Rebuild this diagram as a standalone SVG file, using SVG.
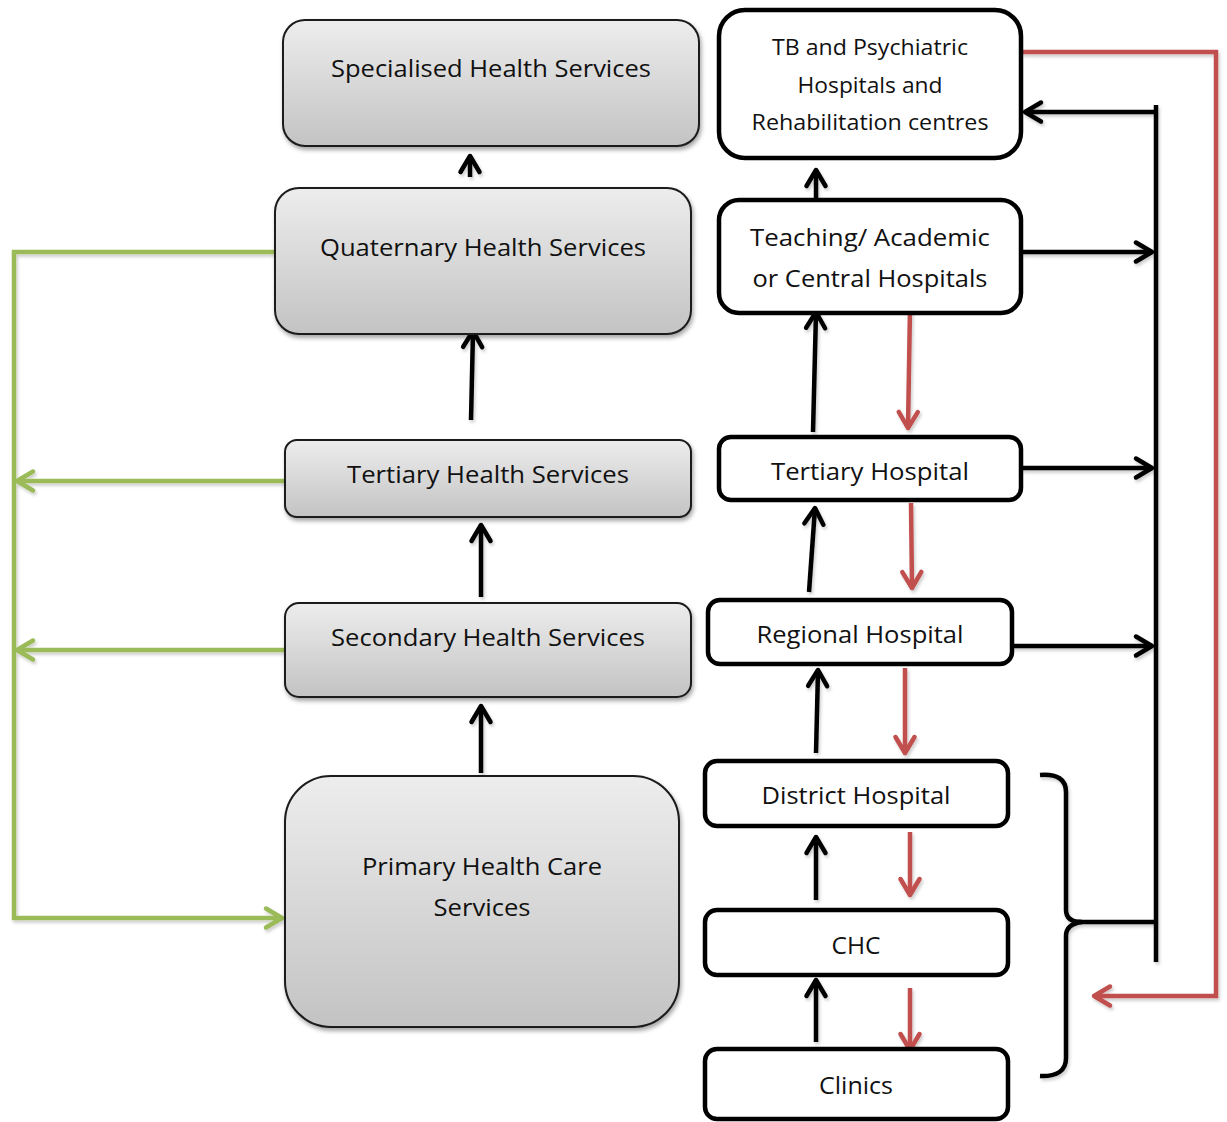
<svg xmlns="http://www.w3.org/2000/svg" width="1227" height="1122" viewBox="0 0 1227 1122">
  <style>
    .svc { stroke: #1a1a1a; stroke-width: 2; fill: url(#greyFade); filter: url(#soft); }
    .hosp { stroke: #000; stroke-width: 4.5; fill: #fff; }
    .lbl { font-family: "Open Sans", "Noto Sans", "Liberation Sans", sans-serif; fill: #111; text-anchor: middle; }
    .big { font-size: 24px; }
    .mid { font-size: 23px; }
    .small { font-size: 21px; }
    .up { stroke: #000; stroke-width: 4.5; fill: none; marker-end: url(#headBlack); }
    .down { stroke: #c0504d; stroke-width: 4.5; fill: none; marker-end: url(#headRed); }
    .green { stroke: #9bbb59; stroke-width: 4.5; fill: none; marker-end: url(#headGreen); }
    .plain { stroke: #000; stroke-width: 4.5; fill: none; }
    .plainRed { stroke: #c0504d; stroke-width: 4.5; fill: none; }
    .plainGreen { stroke: #9bbb59; stroke-width: 4.5; fill: none; }
  </style>
  <defs>
    <linearGradient id="greyFade" x1="0" y1="0" x2="0" y2="1">
      <stop offset="0" stop-color="#ededed"/>
      <stop offset="1" stop-color="#c3c3c3"/>
    </linearGradient>
    <filter id="soft" x="-10%" y="-10%" width="120%" height="130%">
      <feDropShadow dx="1.5" dy="3" stdDeviation="2" flood-color="#000" flood-opacity="0.35"/>
    </filter>
    <filter id="lineShadow" x="-10%" y="-10%" width="120%" height="120%">
      <feDropShadow dx="1.5" dy="2.5" stdDeviation="1.5" flood-color="#000" flood-opacity="0.2"/>
    </filter>
    <marker id="headBlack" viewBox="-20 -13 24 26" refX="0" refY="0" markerWidth="24" markerHeight="26" markerUnits="userSpaceOnUse" orient="auto">
      <path d="M-16,-9.5 L0,0 L-16,9.5" fill="none" stroke="#000" stroke-width="4.5" stroke-linecap="round" stroke-linejoin="round"/>
    </marker>
    <marker id="headRed" viewBox="-20 -13 24 26" refX="0" refY="0" markerWidth="24" markerHeight="26" markerUnits="userSpaceOnUse" orient="auto">
      <path d="M-16,-9.5 L0,0 L-16,9.5" fill="none" stroke="#c0504d" stroke-width="4.5" stroke-linecap="round" stroke-linejoin="round"/>
    </marker>
    <marker id="headGreen" viewBox="-20 -13 24 26" refX="0" refY="0" markerWidth="24" markerHeight="26" markerUnits="userSpaceOnUse" orient="auto">
      <path d="M-16,-9.5 L0,0 L-16,9.5" fill="none" stroke="#9bbb59" stroke-width="4.5" stroke-linecap="round" stroke-linejoin="round"/>
    </marker>
  </defs>

  <rect width="1227" height="1122" fill="#fff"/>

  <!-- connectors -->
  <g id="connectors" filter="url(#lineShadow)">
    <!-- green feedback loop on the service levels -->
    <path class="green" d="M275,252 L14,252 L14,918 L282,918"/>
    <path class="green" d="M285,481 L17,481"/>
    <path class="green" d="M285,650 L17,650"/>

    <!-- service level escalation -->
    <path class="up" d="M470,177 L470,156"/>
    <path class="up" d="M471,420 L473,331"/>
    <path class="up" d="M481,597 L481,525"/>
    <path class="up" d="M481,773 L481,706"/>

    <!-- hospital referral upward -->
    <path class="up" d="M816,200 L816,170"/>
    <path class="up" d="M813,432 L816,312"/>
    <path class="up" d="M809,592 L815,508"/>
    <path class="up" d="M816,753 L818,670"/>
    <path class="up" d="M816,900 L816,837"/>
    <path class="up" d="M816,1042 L816,980"/>

    <!-- back referral downward -->
    <path class="down" d="M910,308 L908,428"/>
    <path class="down" d="M911,503 L912,588"/>
    <path class="down" d="M905,668 L905,753"/>
    <path class="down" d="M910,832 L910,895"/>
    <path class="down" d="M910,988 L910,1050"/>
    <path class="down" d="M1021,52 L1216,52 L1216,996 L1094,996"/>

    <!-- right-hand bus to specialised hospitals -->
    <path class="plain" d="M1156,105 L1156,962"/>
    <path class="up" d="M1156,112 L1025,112"/>
    <path class="up" d="M1021,252 L1152,252"/>
    <path class="up" d="M1021,468 L1152,468"/>
    <path class="up" d="M1012,646 L1152,646"/>
    <path class="plain" d="M1078,922 L1156,922"/>

    <!-- brace grouping district level facilities -->
    <path class="plain" d="M1040,775 Q1066,773 1066,792 L1066,910 Q1066,922 1082,922 Q1066,924 1066,936 L1066,1058 Q1066,1077 1040,1076"/>
  </g>

  <!-- service levels -->
  <g id="specialised">
    <rect class="svc" x="283" y="20" width="416" height="126" rx="22"/>
    <text class="lbl big" x="491" y="77" textLength="320" lengthAdjust="spacingAndGlyphs">Specialised Health Services</text>
  </g>
  <g id="quaternary">
    <rect class="svc" x="275" y="188" width="416" height="146" rx="24"/>
    <text class="lbl big" x="483" y="256" textLength="326" lengthAdjust="spacingAndGlyphs">Quaternary Health Services</text>
  </g>
  <g id="tertiary-services">
    <rect class="svc" x="285" y="440" width="406" height="77" rx="12"/>
    <text class="lbl big" x="488" y="483" textLength="282" lengthAdjust="spacingAndGlyphs">Tertiary Health Services</text>
  </g>
  <g id="secondary-services">
    <rect class="svc" x="285" y="603" width="406" height="94" rx="14"/>
    <text class="lbl big" x="488" y="646" textLength="314" lengthAdjust="spacingAndGlyphs">Secondary Health Services</text>
  </g>
  <g id="primary-services">
    <rect class="svc" x="285" y="776" width="394" height="251" rx="46"/>
    <text class="lbl big" x="482" y="875" textLength="240" lengthAdjust="spacingAndGlyphs">Primary Health Care</text>
    <text class="lbl big" x="482" y="916" textLength="97" lengthAdjust="spacingAndGlyphs">Services</text>
  </g>

  <!-- hospitals -->
  <g id="tb-psychiatric">
    <rect class="hosp" x="719" y="10" width="302" height="148" rx="26"/>
    <text class="lbl small" x="870" y="55" textLength="196" lengthAdjust="spacingAndGlyphs">TB and Psychiatric</text>
    <text class="lbl small" x="870" y="93" textLength="145" lengthAdjust="spacingAndGlyphs">Hospitals and</text>
    <text class="lbl small" x="870" y="130" textLength="237" lengthAdjust="spacingAndGlyphs">Rehabilitation centres</text>
  </g>
  <g id="teaching">
    <rect class="hosp" x="719" y="200" width="302" height="113" rx="20"/>
    <text class="lbl mid" x="870" y="246" textLength="240" lengthAdjust="spacingAndGlyphs">Teaching/ Academic</text>
    <text class="lbl mid" x="870" y="287" textLength="235" lengthAdjust="spacingAndGlyphs">or Central Hospitals</text>
  </g>
  <g id="tertiary-hospital">
    <rect class="hosp" x="719" y="437" width="302" height="63" rx="12"/>
    <text class="lbl mid" x="870" y="480" textLength="198" lengthAdjust="spacingAndGlyphs">Tertiary Hospital</text>
  </g>
  <g id="regional-hospital">
    <rect class="hosp" x="708" y="600" width="304" height="64" rx="12"/>
    <text class="lbl mid" x="860" y="643" textLength="207" lengthAdjust="spacingAndGlyphs">Regional Hospital</text>
  </g>
  <g id="district-hospital">
    <rect class="hosp" x="705" y="761" width="303" height="65" rx="12"/>
    <text class="lbl mid" x="856" y="804" textLength="189" lengthAdjust="spacingAndGlyphs">District Hospital</text>
  </g>
  <g id="chc">
    <rect class="hosp" x="705" y="910" width="303" height="65" rx="12"/>
    <text class="lbl mid" x="856" y="954" textLength="49" lengthAdjust="spacingAndGlyphs">CHC</text>
  </g>
  <g id="clinics">
    <rect class="hosp" x="705" y="1049" width="303" height="70" rx="12"/>
    <text class="lbl mid" x="856" y="1094" textLength="74" lengthAdjust="spacingAndGlyphs">Clinics</text>
  </g>
</svg>
